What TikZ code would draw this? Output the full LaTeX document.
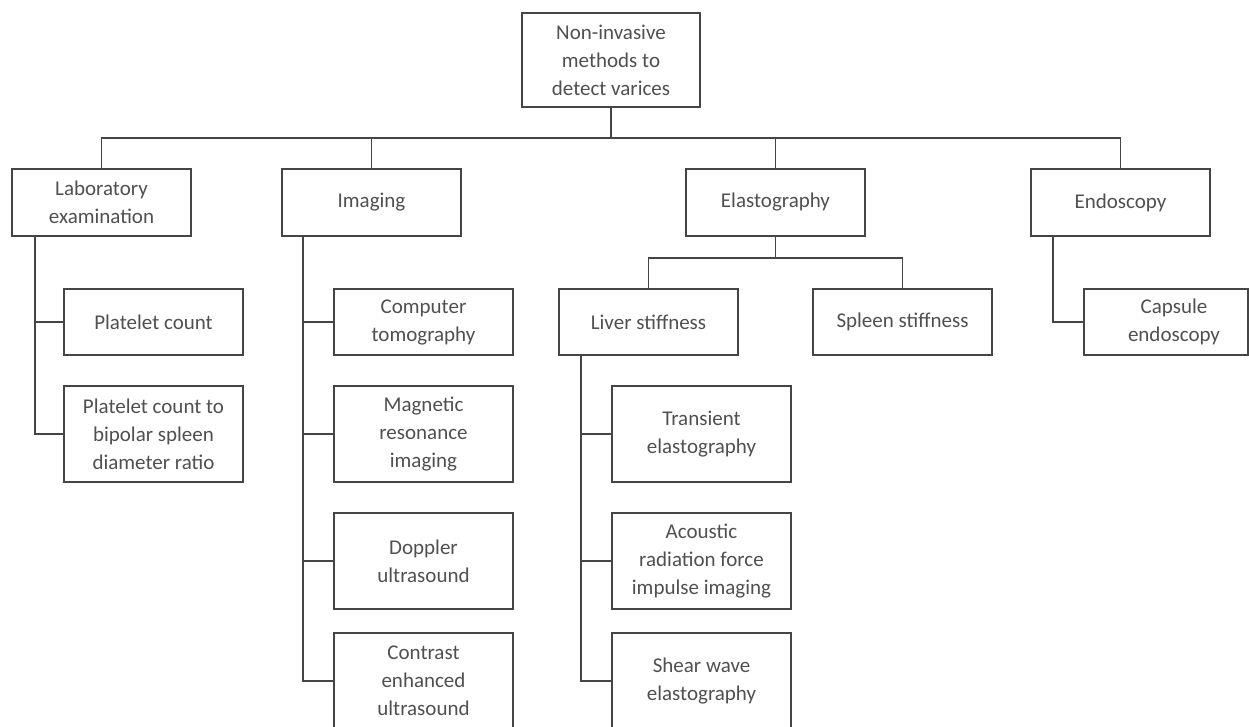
\documentclass[tikz,border=0pt]{standalone}
\usepackage{fontspec}
\setmainfont{Carlito}
\definecolor{linec}{HTML}{454545}
\definecolor{textc}{HTML}{505050}
\tikzset{
  box/.style={draw=linec, line width=1.4pt, fill=white, inner sep=0pt, outer sep=0pt,
    align=center, text=textc, font=\fontsize{21}{28}\selectfont},
  conn/.style={draw=linec, line width=1.4pt}
}
\newcommand\bx[6]{\node[box, minimum width={(#4-#2)*1pt}, minimum height={(#5-#3)*1pt}] (#1) at ({(#2+#4)/2},{(#3+#5)/2}) {#6};}
\begin{document}
\begin{tikzpicture}[x=1pt,y=-1pt]
\useasboundingbox (0,0) rectangle (1249,726);
\clip (0,0) rectangle (1249,726);
% level 0
\bx{root}{522}{13}{700}{107}{Non-invasive\\methods to\\detect varices}
% level 1
\bx{lab}{12}{169}{191}{236}{Laboratory\\examination}
\bx{img}{282}{169}{461}{236}{Imaging}
\bx{ela}{686}{169}{865}{236}{Elastography}
\bx{endo}{1031}{169}{1210}{236}{Endoscopy}
% lab children
\bx{plc}{64}{289}{243}{355}{Platelet count}
\bx{ratio}{64}{386}{243}{482}{Platelet count to\\bipolar spleen\\diameter ratio}
% imaging children
\bx{ct}{334}{289}{513}{355}{Computer\\tomography}
\bx{mri}{334}{386}{513}{482}{Magnetic\\resonance\\imaging}
\bx{dop}{334}{513}{513}{609}{Doppler\\ultrasound}
\bx{ceus}{334}{633}{513}{729}{Contrast\\enhanced\\ultrasound}
% elastography children
\bx{liver}{559}{289}{738}{355}{Liver stiffness}
\bx{spleen}{813}{289}{992}{355}{Spleen stiffness}
\bx{te}{612}{386}{791}{482}{Transient\\elastography}
\bx{arfi}{612}{513}{791}{609}{Acoustic\\radiation force\\impulse imaging}
\bx{swe}{612}{633}{791}{729}{Shear wave\\elastography}
% endoscopy child
\bx{caps}{1084}{289}{1248}{355}{\hspace*{16pt}Capsule\\\hspace*{16pt}endoscopy}
% connectors
\coordinate (bus) at (611,138);
\coordinate (ebus) at (ela.south |- 0,258);
\draw[conn] (root.south) -- (bus);
\draw[conn] (lab.north) |- (bus) -| (endo.north);
\draw[conn] (img.north) -- (img.north |- bus);
\draw[conn] (ela.north) -- (ela.north |- bus);
\draw[conn] (ela.south) -- (ebus);
\draw[conn] (liver.north) |- (ebus) -| (spleen.north);
\coordinate (labv) at ([xshift=23pt]lab.south west);
\draw[conn] (labv) |- (plc.west);
\draw[conn] (labv) |- (ratio.west);
\coordinate (imgv) at ([xshift=21pt]img.south west);
\draw[conn] (imgv) |- (ct.west);
\draw[conn] (imgv) |- (mri.west);
\draw[conn] (imgv) |- (dop.west);
\draw[conn] (imgv) |- (ceus.west);
\coordinate (livv) at ([xshift=22pt]liver.south west);
\draw[conn] (livv) |- (te.west);
\draw[conn] (livv) |- (arfi.west);
\draw[conn] (livv) |- (swe.west);
\coordinate (endv) at ([xshift=22pt]endo.south west);
\draw[conn] (endv) |- (caps.west);
\end{tikzpicture}
\end{document}
